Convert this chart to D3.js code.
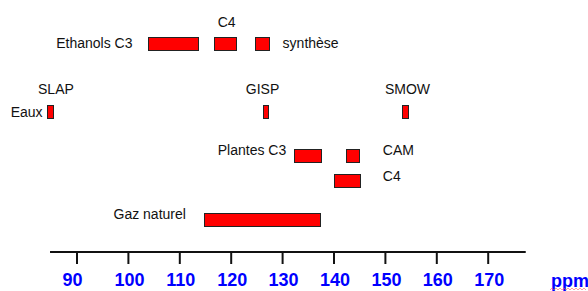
<!DOCTYPE html>
<html>
<head>
<meta charset="utf-8">
<script src="https://cdn.jsdelivr.net/npm/d3@7"></script>
<style>
  body { margin: 0; background: #fff; }
  text { font-family: "Liberation Sans", Arial, sans-serif; }
</style>
</head>
<body>
<div id="chart"></div>
<script>
// delta ranges (ppm)
const barNames = ["Ethanols C3", "Ethanols C4", "Synthèse", "SLAP", "GISP", "SMOW", "Plantes C3", "CAM", "Plantes C4", "Gaz naturel"];
const barRows  = ["ethanol", "ethanol", "ethanol", "eaux", "eaux", "eaux", "plantes", "plantes", "c4", "gaz"];
const barLow   = [104.0, 116.8, 124.7, 84.3, 126.3, 153.3, 132.3, 142.4, 140.0, 114.9];
const barHigh  = [113.8, 121.0, 127.4, 85.4, 127.3, 154.4, 137.5, 145.0, 145.0, 137.5];

// text labels: where they sit on the ppm axis
const labelTexts  = ["Ethanols C3", "C4", "synthèse", "SLAP", "Eaux", "GISP", "SMOW", "Plantes C3", "CAM", "C4", "Gaz naturel"];
const labelValues = [100.9, 119.2, 130.1, 86.0, 83.4, 126.2, 154.4, 130.8, 149.6, 149.6, 97.2];
const labelRows   = ["ethanol", "ethanolTop", "ethanol", "eauxTop", "eaux", "eauxTop", "eauxTop", "plantesTxt", "plantesTxt", "c4Txt", "gazTxt"];
const labelAnchor = ["end", "middle", "start", "middle", "end", "middle", "middle", "end", "start", "start", "start"];

const tickValues = [90, 100, 110, 120, 130, 140, 150, 160, 170];

const width = 588, height = 291;

const svg = d3.select("#chart").append("svg")
    .attr("width", width)
    .attr("height", height);

const x = d3.scaleLinear().domain([90, 170]).range([76.5, 487.7]);

// vertical centre of each row
const y = d3.scaleOrdinal()
    .domain(["ethanolTop", "ethanol", "eauxTop", "eaux", "plantesTxt", "plantes", "c4Txt", "c4", "gazTxt", "gaz"])
    .range([21.7, 43, 88.5, 111.5, 150, 155.3, 176, 180.6, 214, 219.5]);

const barH = 13;

// bars
svg.selectAll("rect.bar")
    .data(barNames)
    .enter()
    .append("rect")
    .attr("class", "bar")
    .attr("x", (d, i) => Math.round(x(barLow[i])) + 0.5)
    .attr("y", (d, i) => Math.round(y(barRows[i]) - barH / 2) + 0.5)
    .attr("width", (d, i) => Math.round(x(barHigh[i]) - x(barLow[i])))
    .attr("height", barH)
    .attr("fill", "#ff0000")
    .attr("stroke", "#222")
    .attr("stroke-width", 1);

// labels
svg.selectAll("text.lbl")
    .data(labelTexts)
    .enter()
    .append("text")
    .attr("class", "lbl")
    .attr("x", (d, i) => x(labelValues[i]))
    .attr("y", (d, i) => y(labelRows[i]) + 5)
    .attr("text-anchor", (d, i) => labelAnchor[i])
    .attr("font-size", 14)
    .attr("fill", "#111")
    .text(d => d);

// axis
const axisY = 252;
svg.append("line")
    .attr("x1", x(84.85)).attr("x2", x(177.4))
    .attr("y1", axisY).attr("y2", axisY)
    .attr("stroke", "#111")
    .attr("stroke-width", 2);

const axis = d3.axisBottom(x)
    .tickValues(tickValues)
    .tickSize(12)
    .tickPadding(9);

const gAxis = svg.append("g")
    .attr("transform", `translate(0,${axisY})`)
    .call(axis);

gAxis.select(".domain").remove();
gAxis.selectAll(".tick line")
    .attr("stroke", "#111")
    .attr("stroke-width", 2);
gAxis.selectAll(".tick text")
    .attr("font-family", "'Liberation Sans', Arial, sans-serif")
    .attr("font-size", 18)
    .attr("font-weight", "bold")
    .attr("fill", "#0000ff")
    .attr("dx", d => d === 90 ? -4.5 : 1); // first label sits a bit left in the original

svg.append("text")
    .attr("x", 551)
    .attr("y", 287)
    .attr("font-size", 18)
    .attr("font-weight", "bold")
    .attr("fill", "#0000ff")
    .text("ppm");

// the little red squiggle under "ppm" (spell-check mark in the original)
const squiggle = d3.range(0, 19).map(i => [550 + i * 2, i % 2 ? 288 : 290]);
svg.append("path")
    .attr("d", d3.line()(squiggle))
    .attr("fill", "none")
    .attr("stroke", "#ff5050")
    .attr("stroke-width", 0.8)
    .attr("opacity", 0.7);
</script>
</body>
</html>
